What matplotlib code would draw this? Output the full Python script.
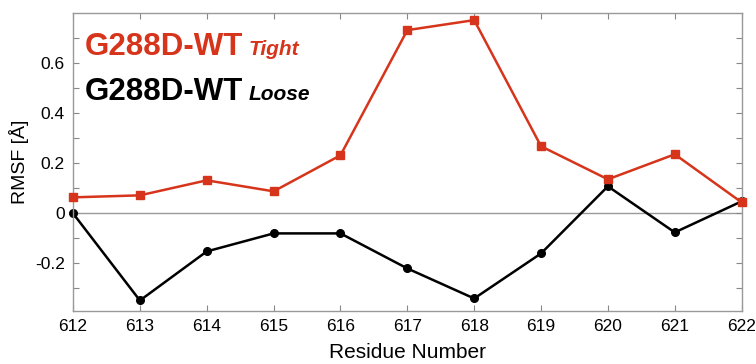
import matplotlib
matplotlib.use("Agg")
import matplotlib.pyplot as plt
import numpy as np

residues = [612, 613, 614, 615, 616, 617, 618, 619, 620, 621, 622]
tight = [0.064, 0.072, 0.132, 0.088, 0.232, 0.732, 0.772, 0.268, 0.136, 0.236, 0.044]
loose = [0.0, -0.348, -0.152, -0.08, -0.08, -0.22, -0.34, -0.16, 0.108, -0.076, 0.048]
yticks_major = [-0.3, -0.2, -0.1, 0.0, 0.1, 0.2, 0.3, 0.4, 0.5, 0.6, 0.7]
ytick_labels = ['', '-0.2', '', '0', '', '0.2', '', '0.4', '', '0.6', '']

RED = '#d6341b'
plt.rcParams['font.family'] = ['Liberation Sans', 'DejaVu Sans']

fig = plt.figure(figsize=(7.56, 3.64), dpi=100)
ax = fig.add_axes([0.0966, 0.1456, 0.8844, 0.8184])

ax.axhline(0, color='#999999', lw=1.0, zorder=1)
ax.plot(residues, tight, color=RED, lw=1.8, marker='s', ms=5.5, zorder=3, clip_on=False)
ax.plot(residues, loose, color='black', lw=1.8, marker='o', ms=5.5, zorder=2, clip_on=False)

ax.set_xlim(612, 622)
ax.set_ylim(-0.39, 0.80)
ax.set_xticks(residues)
ax.set_xticklabels([str(r) for r in residues])
ax.set_yticks(yticks_major)
ax.set_yticklabels(ytick_labels)
ax.tick_params(direction='in', top=True, right=True, length=4, width=0.8,
               color='#888888', labelsize=12.5, pad=6)
for s in ax.spines.values():
    s.set_color('#999999')
    s.set_linewidth(1.0)

ax.set_xlabel('Residue Number', fontsize=15, labelpad=6)
ax.set_ylabel('RMSF [Å]', fontsize=14, labelpad=4)

# Legend-like annotations
t1 = fig.text(85 / 756, 1 - 55 / 364, 'G288D-WT', color=RED, fontsize=22.5, fontweight='bold')
t2 = fig.text(85 / 756, 1 - 100 / 364, 'G288D-WT', color='black', fontsize=22.5, fontweight='bold')
fig.canvas.draw()
r = fig.canvas.get_renderer()
for t, sub, col in [(t1, 'Tight', RED), (t2, 'Loose', 'black')]:
    bb = t.get_window_extent(r)
    x = (bb.x1 + 5) / fig.bbox.width
    y = t.get_position()[1]
    fig.text(x, y, sub, color=col, fontsize=15, fontweight='bold', style='italic')

fig.savefig('out.png', dpi=100)
